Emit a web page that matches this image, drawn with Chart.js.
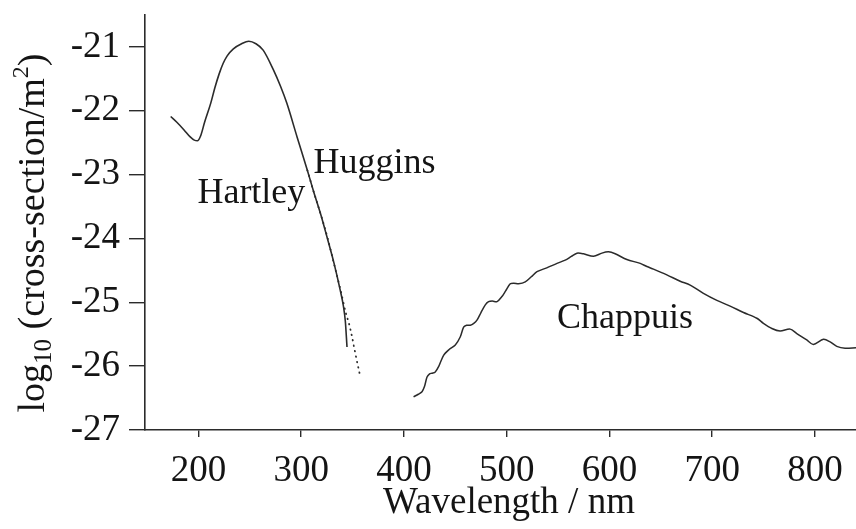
<!DOCTYPE html>
<html>
<head>
<meta charset="utf-8">
<script src="https://cdn.jsdelivr.net/npm/chart.js@4.4.1/dist/chart.umd.min.js"></script>
<style>
    html, body { margin: 0; padding: 0; background: #fff; }
    #wrap { width: 856px; height: 529px; }
</style>
</head>
<body>
<div id="wrap"><canvas id="chart" width="856" height="529"></canvas></div>
<script>
// Ozone absorption cross-section (log10, m^2) against wavelength (nm)
const hartleyWl = [173, 179, 186, 192, 196, 199, 202, 206, 212, 216, 220, 224, 228, 234, 242, 249, 256, 263, 273, 280, 286, 296, 306, 312, 319, 325, 332, 338, 341, 343, 344.6];
const hartleyLog = [-22.09, -22.18, -22.30, -22.41, -22.46, -22.47, -22.40, -22.18, -21.88, -21.64, -21.43, -21.26, -21.14, -21.03, -20.95, -20.91, -20.95, -21.05, -21.36, -21.62, -21.88, -22.41, -22.93, -23.26, -23.62, -23.97, -24.39, -24.81, -25.05, -25.30, -25.70];

const hugginsWl = [306, 312, 319, 325.5, 332, 338.5, 343.5, 346.5, 349.5, 352.7, 357.6];
const hugginsLog = [-22.93, -23.26, -23.62, -23.98, -24.40, -24.82, -25.17, -25.33, -25.54, -25.80, -26.17];

const chappuisWl = [409.4, 414, 417.6, 420, 422.5, 425, 427.3, 430.5, 434, 438.6, 444, 450, 454.9, 458.1, 461, 464.6, 468, 471.1, 475, 479.2, 482.4, 486, 490.6, 495.4, 499, 503.5, 507, 511.6, 518.1, 524, 529.5, 539, 549, 557, 563, 568.4, 574.8, 584.5, 592.7, 599.1, 605.6, 617, 630, 636.5, 642.9, 655.9, 668.9, 678.6, 691.5, 704.6, 717.5, 730.5, 743.5, 749.9, 758.1, 766.1, 775.9, 782.4, 792.1, 798.5, 808.3, 814.8, 821.3, 829.4, 840];
const chappuisLog = [-26.48, -26.44, -26.40, -26.32, -26.17, -26.12, -26.11, -26.09, -26.00, -25.83, -25.74, -25.67, -25.54, -25.39, -25.36, -25.36, -25.33, -25.28, -25.16, -25.04, -24.99, -24.98, -24.99, -24.91, -24.82, -24.71, -24.70, -24.71, -24.68, -24.60, -24.52, -24.46, -24.39, -24.34, -24.28, -24.23, -24.24, -24.28, -24.23, -24.21, -24.24, -24.33, -24.39, -24.44, -24.48, -24.57, -24.67, -24.73, -24.86, -24.97, -25.06, -25.16, -25.25, -25.33, -25.41, -25.45, -25.42, -25.49, -25.59, -25.66, -25.58, -25.62, -25.69, -25.72, -25.71];

const xTicks = [200, 300, 400, 500, 600, 700, 800];
const yTicks = [-27, -26, -25, -24, -23, -22, -21];

const bandNames = ['Hartley', 'Huggins', 'Chappuis'];

const ink = '#141414';
const lineInk = '#2b2b2b';
const serif = '"Liberation Serif", "Times New Roman", serif';

const toPoints = (xs, ys) => xs.map((v, i) => ({ x: v, y: ys[i] }));

// Band names, anchored in data units (left edge, baseline)
const bandAnchors = [
    { wl: 199, log: -23.45 },
    { wl: 312, log: -22.98 },
    { wl: 549, log: -25.40 }
];

const textPlugin = {
    id: 'textPlugin',
    afterDraw(chart) {
        const { ctx, scales: { x, y } } = chart;
        ctx.save();
        ctx.fillStyle = ink;
        ctx.textBaseline = 'alphabetic';
        ctx.textAlign = 'left';
        ctx.font = '36px ' + serif;
        bandNames.forEach((name, i) => {
            const a = bandAnchors[i];
            ctx.fillText(name, x.getPixelForValue(a.wl), y.getPixelForValue(a.log));
        });

        // x axis title
        ctx.font = '37px ' + serif;
        ctx.textAlign = 'center';
        ctx.fillText('Wavelength / nm', 509, 513);

        // y axis title with subscript and superscript
        const parts = [
            { t: 'log', size: 38, dy: 0 },
            { t: '10', size: 25, dy: 7 },
            { t: ' (cross-section/m', size: 38, dy: 0 },
            { t: '2', size: 24, dy: -16 },
            { t: ')', size: 38, dy: 0 }
        ];
        let total = 0;
        parts.forEach(p => {
            ctx.font = p.size + 'px ' + serif;
            p.w = ctx.measureText(p.t).width;
            total += p.w;
        });
        ctx.translate(44, 233);
        ctx.rotate(-Math.PI / 2);
        ctx.textAlign = 'left';
        let cx = -total / 2;
        parts.forEach(p => {
            ctx.font = p.size + 'px ' + serif;
            ctx.fillText(p.t, cx, p.dy);
            cx += p.w;
        });
        ctx.restore();
    }
};

const ctx = document.getElementById('chart').getContext('2d');
new Chart(ctx, {
    type: 'scatter',
    data: {
        datasets: [
            {
                label: 'Hartley',
                data: toPoints(hartleyWl, hartleyLog),
                showLine: true,
                borderColor: lineInk,
                borderWidth: 1.6,
                pointRadius: 0,
                cubicInterpolationMode: 'monotone'
            },
            {
                label: 'Huggins',
                data: toPoints(hugginsWl, hugginsLog),
                showLine: true,
                borderColor: lineInk,
                borderWidth: 1.8,
                borderDash: [0.5, 5],
                borderCapStyle: 'round',
                pointRadius: 0,
                cubicInterpolationMode: 'monotone'
            },
            {
                label: 'Chappuis',
                data: toPoints(chappuisWl, chappuisLog),
                showLine: true,
                borderColor: lineInk,
                borderWidth: 1.5,
                pointRadius: 0,
                tension: 0.3
            }
        ]
    },
    options: {
        responsive: false,
        animation: false,
        events: [],
        layout: { padding: { top: 15, right: 0, bottom: 0, left: 0 } },
        plugins: {
            legend: { display: false },
            tooltip: { enabled: false }
        },
        scales: {
            x: {
                type: 'linear',
                min: 148,
                max: 840,
                afterBuildTicks: s => { s.ticks = xTicks.map(v => ({ value: v })); },
                afterFit: s => { s.height = 99; s.paddingLeft = 0; s.paddingRight = 0; },
                grid: { drawOnChartArea: false, drawTicks: true, tickLength: 7, color: lineInk, lineWidth: 1.4 },
                border: { display: true, color: lineInk, width: 1.6 },
                ticks: {
                    color: ink,
                    padding: 12,
                    maxRotation: 0,
                    font: { family: serif, size: 37 },
                    callback: v => String(v)
                }
            },
            y: {
                type: 'linear',
                min: -27,
                max: -20.5,
                afterBuildTicks: s => { s.ticks = yTicks.map(v => ({ value: v })); },
                afterFit: s => { s.width = 145; s.paddingTop = 0; s.paddingBottom = 0; },
                grid: { drawOnChartArea: false, drawTicks: true, tickLength: 16, color: lineInk, lineWidth: 1.4 },
                border: { display: true, color: lineInk, width: 1.6 },
                ticks: {
                    color: ink,
                    padding: 9,
                    font: { family: serif, size: 37 },
                    callback: v => String(v)
                }
            }
        }
    },
    plugins: [textPlugin]
});
</script>
</body>
</html>
